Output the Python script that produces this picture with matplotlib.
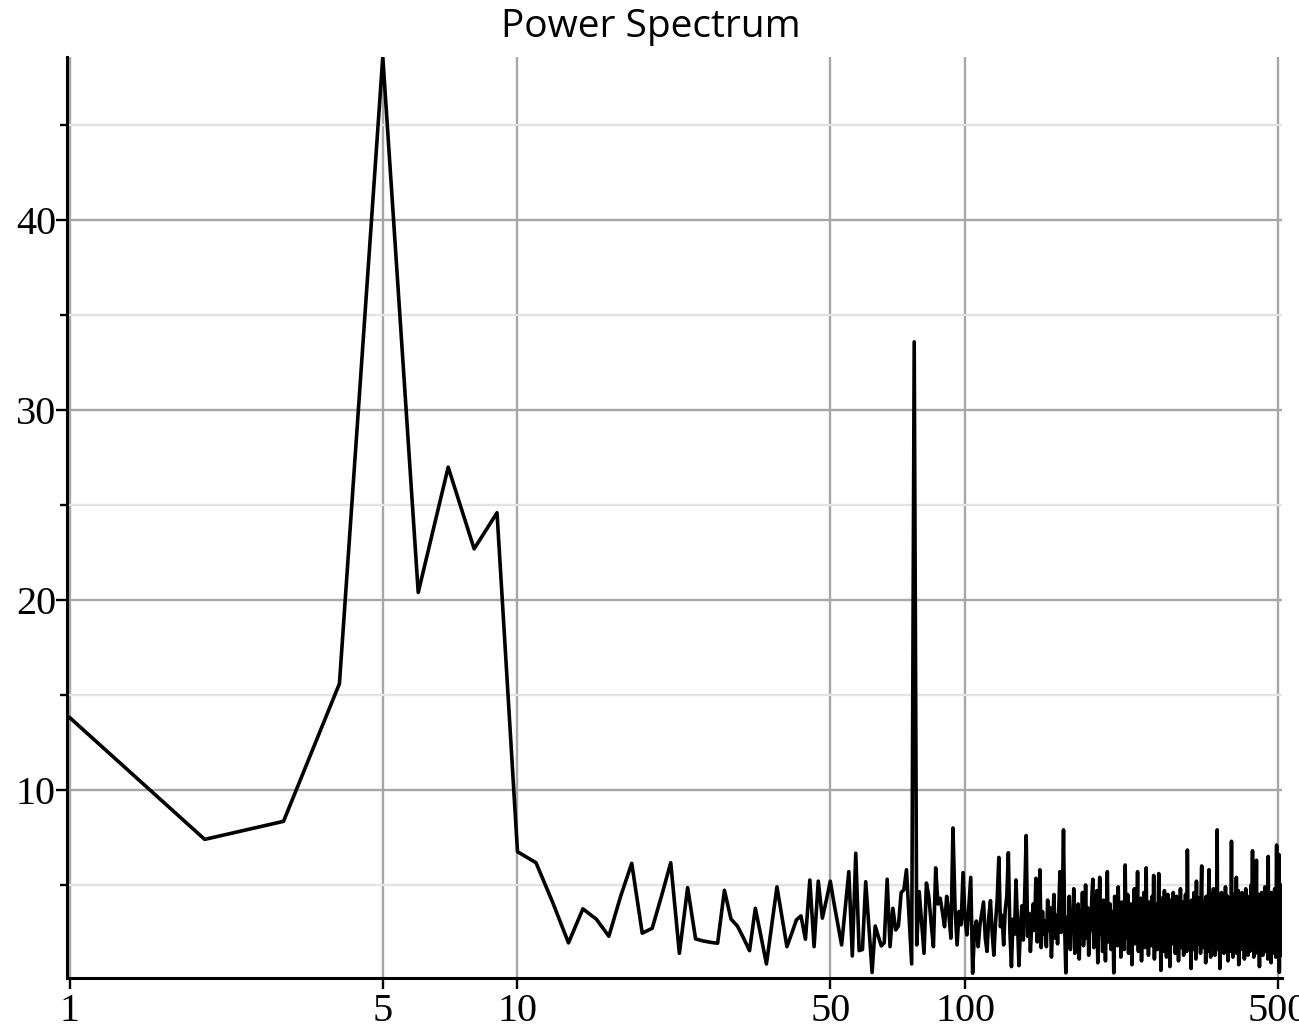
import numpy as np
import matplotlib
matplotlib.use("Agg")
import matplotlib.pyplot as plt
from matplotlib.ticker import FixedLocator, NullFormatter, FixedFormatter

title = "Power Spectrum"
x_tick_values = [1, 5, 10, 50, 100, 500]
x_tick_labels = ["1", "5", "10", "50", "100", "500"]
y_major = [10, 20, 30, 40]
y_minor = [5, 15, 25, 35, 45]

power_1_50 = [13.8, 7.4, 8.35, 15.6, 48.6, 20.4, 27.0, 22.7, 24.6,
              6.75, 6.17, 4.05, 1.95, 3.74, 3.2, 2.3, 4.4, 6.14, 2.46, 2.72,
              4.45, 6.17, 1.4, 4.86, 2.16, 2.05, 1.98, 1.93, 4.72, 3.2,
              2.84, 2.2, 1.54, 3.77, 2.3, 0.84, 2.9, 4.9, 3.3, 1.75,
              2.45, 3.16, 3.37, 2.14, 5.26, 1.75, 5.2, 3.25, 4.2, 5.2]
power_51_100 = [4.0, 2.9, 1.84, 3.8, 5.7, 1.26, 6.67, 1.54, 1.6, 5.17,
                2.8, 0.39, 2.84, 2.3, 1.79, 1.96, 5.3, 1.75, 3.77, 2.63,
                2.84, 4.6, 4.74, 5.8, 3.3, 0.84, 33.6, 1.84, 4.65, 3.0,
                1.4, 5.1, 4.4, 3.0, 1.75, 5.9, 4.0, 4.3, 3.6, 2.8,
                4.4, 3.5, 2.2, 8.0, 3.8, 1.84, 3.6, 2.9, 5.65, 3.2]
power_101_150 = [2.37, 3.9, 5.4, 0.35, 2.6, 3.1, 1.75, 2.9, 3.5, 4.1,
                 2.2, 1.5, 3.3, 4.17, 2.5, 1.3, 3.0, 4.2, 6.45, 2.8,
                 3.4, 1.84, 3.7, 4.4, 6.7, 2.5, 0.7, 3.2, 2.4, 5.26,
                 3.0, 0.75, 2.7, 3.9, 2.1, 4.6, 7.6, 2.3, 3.5, 1.5,
                 2.9, 4.0, 2.6, 5.35, 2.0, 3.3, 5.8, 1.7, 3.6, 2.4]
power_151_250 = [3.1, 1.75, 4.2, 2.6, 3.8, 1.2, 2.9, 4.5, 2.2, 3.4,
                 1.9, 3.7, 5.7, 2.5, 4.1, 7.9, 2.8, 0.37, 3.3, 2.0,
                 4.4, 1.6, 3.5, 2.7, 4.8, 1.4, 3.0, 2.3, 4.0, 1.1,
                 3.6, 2.5, 4.6, 1.8, 2.9, 5.0, 2.2, 3.8, 1.3, 3.2,
                 2.6, 4.3, 5.3, 1.7, 3.4, 2.1, 4.7, 0.9, 3.0, 5.4,
                 2.4, 3.9, 1.5, 4.2, 2.8, 1.0, 3.5, 5.7, 2.0, 3.3,
                 4.0, 1.6, 2.7, 3.6, 0.37, 4.4, 2.3, 3.1, 1.8, 4.9,
                 2.5, 3.7, 1.2, 4.1, 2.9, 3.4, 1.6, 6.05, 2.2, 3.0,
                 4.5, 1.4, 3.3, 2.6, 4.0, 0.8, 3.6, 2.1, 4.8, 1.9,
                 3.2, 2.7, 5.7, 1.5, 3.9, 2.4, 4.3, 1.0, 3.1, 2.8]
power_251_350 = [4.6, 1.7, 3.5, 5.9, 2.0, 3.8, 1.3, 4.1, 2.6, 3.4,
                 1.8, 4.4, 2.3, 5.5, 1.1, 3.7, 2.9, 4.0, 1.6, 3.2,
                 5.6, 2.2, 3.6, 0.5, 4.3, 2.7, 3.1, 1.5, 4.7, 2.4,
                 3.8, 1.2, 3.0, 4.5, 2.0, 3.5, 0.7, 4.2, 2.8, 3.3,
                 1.9, 4.6, 2.5, 3.9, 1.4, 3.1, 4.4, 2.1, 3.7, 1.0,
                 3.4, 2.6, 4.8, 1.7, 3.2, 2.3, 4.1, 1.3, 3.6, 2.9,
                 4.5, 2.0, 1.5, 6.84, 3.3, 1.8, 4.0, 2.5, 3.5, 0.6,
                 4.2, 2.7, 3.1, 1.6, 4.6, 2.2, 3.8, 1.1, 5.2, 2.6,
                 3.4, 1.9, 4.3, 2.8, 3.0, 1.4, 4.7, 6.0, 2.1, 3.6,
                 1.7, 4.1, 2.4, 3.3, 0.9, 4.4, 2.9, 3.7, 1.5, 4.0]
power_351_450 = [5.8, 2.0, 3.5, 1.2, 4.5, 2.6, 3.2, 1.8, 4.8, 2.3,
                 3.9, 1.3, 4.2, 2.7, 3.1, 7.9, 1.6, 3.6, 2.2, 4.3,
                 0.6, 3.4, 2.8, 4.6, 1.9, 3.0, 2.5, 4.1, 1.4, 3.7,
                 2.1, 4.9, 1.7, 3.3, 2.6, 4.4, 1.0, 3.8, 2.4, 4.0,
                 1.5, 3.5, 2.9, 7.3, 2.0, 3.2, 1.2, 4.5, 2.7, 3.6,
                 1.8, 4.2, 2.3, 5.4, 1.4, 3.1, 2.8, 4.7, 0.8, 3.9,
                 2.5, 4.3, 1.6, 3.4, 2.1, 4.6, 1.9, 3.7, 2.6, 4.1,
                 1.1, 3.3, 2.9, 4.8, 1.7, 3.0, 2.4, 4.4, 1.3, 3.8,
                 2.2, 4.0, 1.5, 3.6, 2.7, 5.0, 1.8, 3.2, 6.8, 2.0,
                 4.3, 1.2, 3.5, 2.6, 4.7, 1.6, 3.9, 6.3, 2.3, 3.1]
power_451_512 = [1.4, 4.5, 2.8, 3.4, 0.7, 4.1, 2.1, 3.7, 1.9, 4.6,
                 2.5, 3.0, 1.3, 4.2, 2.9, 3.6, 1.7, 4.9, 2.2, 3.3,
                 1.5, 4.4, 2.6, 3.8, 1.1, 6.5, 2.0, 3.5, 1.8, 4.0,
                 2.7, 3.2, 0.9, 4.6, 2.4, 3.9, 1.6, 4.3, 2.1, 3.4,
                 1.4, 4.8, 2.8, 3.1, 1.2, 4.5, 7.1, 2.3, 3.6, 1.7,
                 4.1, 2.5, 6.6, 0.4, 3.8, 2.0, 4.7, 1.3, 3.3, 5.0,
                 2.6, 3.9]

power = np.array(power_1_50 + power_51_100 + power_101_150 + power_151_250
                 + power_251_350 + power_351_450 + power_451_512)
freq = np.arange(1, len(power) + 1)

W, H = 1299, 1032
fig = plt.figure(figsize=(W / 100, H / 100), dpi=100)
left_px, right_px, top_px, bottom_px = 67, 1282.4, 57, 978
ax = fig.add_axes([left_px / W, 1 - bottom_px / H,
                   (right_px - left_px) / W, (bottom_px - top_px) / H])

ax.set_xscale("log")
ax.set_xlim(0.9847, 512)
ax.set_ylim(0.1, 48.6)

# grid
for xv in x_tick_values:
    ax.axvline(xv, color="#a6a6a6", lw=1.7, zorder=1)
for yv in y_major:
    ax.axhline(yv, color="#a6a6a6", lw=1.7, zorder=1)
for yv in y_minor:
    ax.axhline(yv, color="#e3e3e3", lw=1.7, zorder=1)

ax.plot(freq, power, color="black", lw=2.6, zorder=3)

for s in ["top", "right"]:
    ax.spines[s].set_visible(False)
for s in ["left", "bottom"]:
    ax.spines[s].set_linewidth(2.2)
    ax.spines[s].set_color("black")
    ax.spines[s].set_zorder(4)

ax.xaxis.set_major_locator(FixedLocator(x_tick_values))
ax.xaxis.set_major_formatter(FixedFormatter(x_tick_labels))
ax.xaxis.set_minor_locator(FixedLocator([]))
ax.xaxis.set_minor_formatter(NullFormatter())
ax.yaxis.set_major_locator(FixedLocator(y_major))
ax.yaxis.set_minor_locator(FixedLocator(y_minor))
ax.yaxis.set_minor_formatter(NullFormatter())

ax.tick_params(axis="both", which="major", direction="out", length=8,
               width=1.7, color="black")
ax.tick_params(axis="y", which="minor", direction="out", length=5,
               width=1.7, color="black")
ax.tick_params(axis="x", which="major", pad=3)
ax.tick_params(axis="y", which="major", pad=0)
for lab in ax.get_xticklabels() + ax.get_yticklabels():
    lab.set_fontfamily("Liberation Serif")
    lab.set_fontsize(29)

fig.text(651 / W, 1 - 27 / H, title, ha="center", va="center",
         fontsize=28, family="Open Sans", color="black")

fig.savefig("out.png", dpi=100)
